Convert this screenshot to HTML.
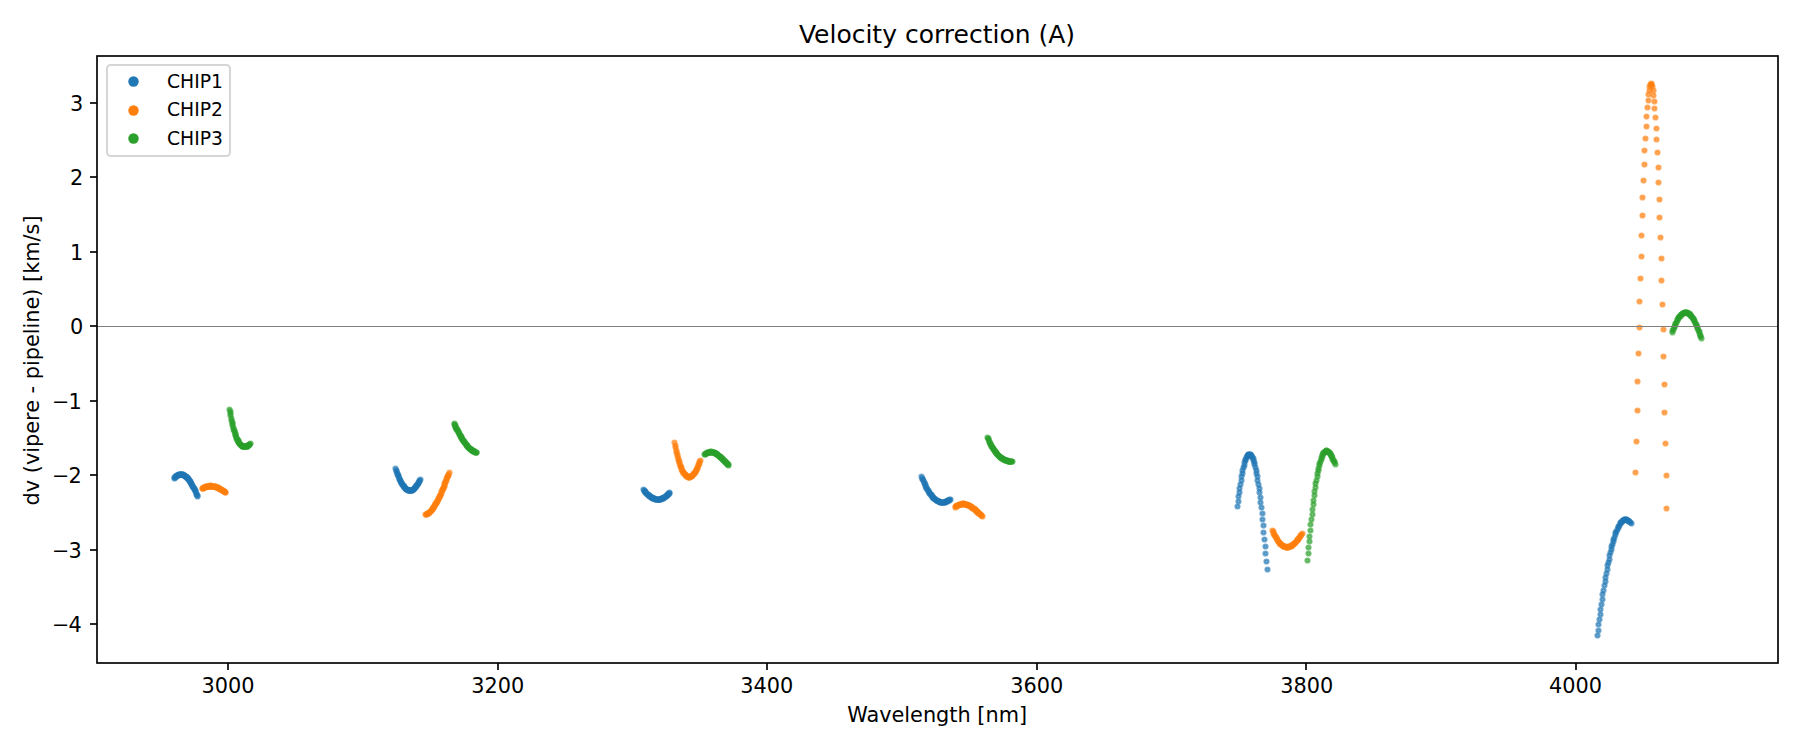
<!DOCTYPE html>
<html lang="en"><head><meta charset="utf-8"><title>Velocity correction (A)</title>
<style>html,body{margin:0;padding:0;background:#fff;overflow:hidden}svg{display:block}text{font-family:"DejaVu Sans", "Liberation Sans", sans-serif;fill:#000}.d circle{fill-opacity:0.6;stroke-opacity:0.6;stroke-width:2.083}.b circle{fill:#1f77b4;stroke:#1f77b4}.o circle{fill:#ff7f0e;stroke:#ff7f0e}.g circle{fill:#2ca02c;stroke:#2ca02c}</style></head><body>
<svg width="1800" height="750" viewBox="0 0 1800 750">
<rect x="0" y="0" width="1800" height="750" fill="#fff"/>
<g class="d">
<g class="b"><circle cx="174.5" cy="478.5" r="2.083"/><circle cx="174.5" cy="477.5" r="2.083"/><circle cx="175.5" cy="477.5" r="2.083"/><circle cx="175.5" cy="476.5" r="2.083"/><circle cx="176.5" cy="476.5" r="2.083"/><circle cx="176.5" cy="475.5" r="2.083"/><circle cx="177.5" cy="475.5" r="2.083"/><circle cx="177.5" cy="475.5" r="2.083"/><circle cx="178.5" cy="475.5" r="2.083"/><circle cx="178.5" cy="474.5" r="2.083"/><circle cx="179.5" cy="474.5" r="2.083"/><circle cx="179.5" cy="474.5" r="2.083"/><circle cx="180.5" cy="474.5" r="2.083"/><circle cx="180.5" cy="474.5" r="2.083"/><circle cx="181.5" cy="474.5" r="2.083"/><circle cx="181.5" cy="474.5" r="2.083"/><circle cx="181.5" cy="474.5" r="2.083"/><circle cx="182.5" cy="474.5" r="2.083"/><circle cx="182.5" cy="474.5" r="2.083"/><circle cx="183.5" cy="474.5" r="2.083"/><circle cx="183.5" cy="475.5" r="2.083"/><circle cx="184.5" cy="475.5" r="2.083"/><circle cx="184.5" cy="475.5" r="2.083"/><circle cx="185.5" cy="476.5" r="2.083"/><circle cx="185.5" cy="476.5" r="2.083"/><circle cx="186.5" cy="476.5" r="2.083"/><circle cx="186.5" cy="477.5" r="2.083"/><circle cx="187.5" cy="477.5" r="2.083"/><circle cx="187.5" cy="478.5" r="2.083"/><circle cx="188.5" cy="478.5" r="2.083"/><circle cx="188.5" cy="479.5" r="2.083"/><circle cx="189.5" cy="480.5" r="2.083"/><circle cx="189.5" cy="480.5" r="2.083"/><circle cx="190.5" cy="481.5" r="2.083"/><circle cx="190.5" cy="482.5" r="2.083"/><circle cx="190.5" cy="482.5" r="2.083"/><circle cx="191.5" cy="483.5" r="2.083"/><circle cx="191.5" cy="484.5" r="2.083"/><circle cx="192.5" cy="485.5" r="2.083"/><circle cx="192.5" cy="486.5" r="2.083"/><circle cx="193.5" cy="487.5" r="2.083"/><circle cx="193.5" cy="487.5" r="2.083"/><circle cx="194.5" cy="488.5" r="2.083"/><circle cx="194.5" cy="489.5" r="2.083"/><circle cx="195.5" cy="490.5" r="2.083"/><circle cx="195.5" cy="491.5" r="2.083"/><circle cx="196.5" cy="493.5" r="2.083"/><circle cx="196.5" cy="494.5" r="2.083"/><circle cx="197.5" cy="495.5" r="2.083"/><circle cx="197.5" cy="496.5" r="2.083"/></g>
<g class="o"><circle cx="202.5" cy="488.5" r="2.083"/><circle cx="202.5" cy="488.5" r="2.083"/><circle cx="203.5" cy="488.5" r="2.083"/><circle cx="203.5" cy="487.5" r="2.083"/><circle cx="204.5" cy="487.5" r="2.083"/><circle cx="204.5" cy="487.5" r="2.083"/><circle cx="205.5" cy="487.5" r="2.083"/><circle cx="205.5" cy="486.5" r="2.083"/><circle cx="206.5" cy="486.5" r="2.083"/><circle cx="206.5" cy="486.5" r="2.083"/><circle cx="207.5" cy="486.5" r="2.083"/><circle cx="207.5" cy="486.5" r="2.083"/><circle cx="208.5" cy="486.5" r="2.083"/><circle cx="208.5" cy="486.5" r="2.083"/><circle cx="209.5" cy="486.5" r="2.083"/><circle cx="209.5" cy="486.5" r="2.083"/><circle cx="209.5" cy="486.5" r="2.083"/><circle cx="210.5" cy="485.5" r="2.083"/><circle cx="210.5" cy="485.5" r="2.083"/><circle cx="211.5" cy="486.5" r="2.083"/><circle cx="211.5" cy="486.5" r="2.083"/><circle cx="212.5" cy="486.5" r="2.083"/><circle cx="212.5" cy="486.5" r="2.083"/><circle cx="213.5" cy="486.5" r="2.083"/><circle cx="213.5" cy="486.5" r="2.083"/><circle cx="214.5" cy="486.5" r="2.083"/><circle cx="214.5" cy="486.5" r="2.083"/><circle cx="215.5" cy="486.5" r="2.083"/><circle cx="215.5" cy="486.5" r="2.083"/><circle cx="216.5" cy="487.5" r="2.083"/><circle cx="216.5" cy="487.5" r="2.083"/><circle cx="217.5" cy="487.5" r="2.083"/><circle cx="217.5" cy="487.5" r="2.083"/><circle cx="218.5" cy="487.5" r="2.083"/><circle cx="218.5" cy="488.5" r="2.083"/><circle cx="218.5" cy="488.5" r="2.083"/><circle cx="219.5" cy="488.5" r="2.083"/><circle cx="219.5" cy="488.5" r="2.083"/><circle cx="220.5" cy="489.5" r="2.083"/><circle cx="220.5" cy="489.5" r="2.083"/><circle cx="221.5" cy="489.5" r="2.083"/><circle cx="221.5" cy="489.5" r="2.083"/><circle cx="222.5" cy="490.5" r="2.083"/><circle cx="222.5" cy="490.5" r="2.083"/><circle cx="223.5" cy="490.5" r="2.083"/><circle cx="223.5" cy="491.5" r="2.083"/><circle cx="224.5" cy="491.5" r="2.083"/><circle cx="224.5" cy="491.5" r="2.083"/><circle cx="225.5" cy="492.5" r="2.083"/><circle cx="225.5" cy="492.5" r="2.083"/></g>
<g class="g"><circle cx="229.5" cy="409.5" r="2.083"/><circle cx="230.5" cy="411.5" r="2.083"/><circle cx="230.5" cy="413.5" r="2.083"/><circle cx="230.5" cy="415.5" r="2.083"/><circle cx="231.5" cy="418.5" r="2.083"/><circle cx="231.5" cy="420.5" r="2.083"/><circle cx="232.5" cy="422.5" r="2.083"/><circle cx="232.5" cy="423.5" r="2.083"/><circle cx="232.5" cy="425.5" r="2.083"/><circle cx="233.5" cy="427.5" r="2.083"/><circle cx="233.5" cy="429.5" r="2.083"/><circle cx="234.5" cy="430.5" r="2.083"/><circle cx="234.5" cy="431.5" r="2.083"/><circle cx="235.5" cy="433.5" r="2.083"/><circle cx="235.5" cy="434.5" r="2.083"/><circle cx="235.5" cy="435.5" r="2.083"/><circle cx="236.5" cy="437.5" r="2.083"/><circle cx="236.5" cy="438.5" r="2.083"/><circle cx="237.5" cy="439.5" r="2.083"/><circle cx="237.5" cy="440.5" r="2.083"/><circle cx="238.5" cy="440.5" r="2.083"/><circle cx="238.5" cy="441.5" r="2.083"/><circle cx="238.5" cy="442.5" r="2.083"/><circle cx="239.5" cy="443.5" r="2.083"/><circle cx="239.5" cy="443.5" r="2.083"/><circle cx="240.5" cy="444.5" r="2.083"/><circle cx="240.5" cy="444.5" r="2.083"/><circle cx="241.5" cy="445.5" r="2.083"/><circle cx="241.5" cy="445.5" r="2.083"/><circle cx="241.5" cy="445.5" r="2.083"/><circle cx="242.5" cy="446.5" r="2.083"/><circle cx="242.5" cy="446.5" r="2.083"/><circle cx="243.5" cy="446.5" r="2.083"/><circle cx="243.5" cy="446.5" r="2.083"/><circle cx="244.5" cy="446.5" r="2.083"/><circle cx="244.5" cy="446.5" r="2.083"/><circle cx="244.5" cy="446.5" r="2.083"/><circle cx="245.5" cy="446.5" r="2.083"/><circle cx="245.5" cy="446.5" r="2.083"/><circle cx="246.5" cy="446.5" r="2.083"/><circle cx="246.5" cy="446.5" r="2.083"/><circle cx="247.5" cy="446.5" r="2.083"/><circle cx="247.5" cy="446.5" r="2.083"/><circle cx="247.5" cy="445.5" r="2.083"/><circle cx="248.5" cy="445.5" r="2.083"/><circle cx="248.5" cy="445.5" r="2.083"/><circle cx="249.5" cy="444.5" r="2.083"/><circle cx="249.5" cy="444.5" r="2.083"/><circle cx="249.5" cy="444.5" r="2.083"/><circle cx="250.5" cy="443.5" r="2.083"/></g>
<g class="b"><circle cx="395.5" cy="468.5" r="2.083"/><circle cx="396.5" cy="470.5" r="2.083"/><circle cx="396.5" cy="471.5" r="2.083"/><circle cx="397.5" cy="473.5" r="2.083"/><circle cx="397.5" cy="474.5" r="2.083"/><circle cx="398.5" cy="475.5" r="2.083"/><circle cx="398.5" cy="476.5" r="2.083"/><circle cx="399.5" cy="478.5" r="2.083"/><circle cx="399.5" cy="479.5" r="2.083"/><circle cx="400.5" cy="480.5" r="2.083"/><circle cx="400.5" cy="481.5" r="2.083"/><circle cx="401.5" cy="482.5" r="2.083"/><circle cx="401.5" cy="483.5" r="2.083"/><circle cx="402.5" cy="484.5" r="2.083"/><circle cx="402.5" cy="484.5" r="2.083"/><circle cx="403.5" cy="485.5" r="2.083"/><circle cx="403.5" cy="486.5" r="2.083"/><circle cx="404.5" cy="486.5" r="2.083"/><circle cx="404.5" cy="487.5" r="2.083"/><circle cx="405.5" cy="488.5" r="2.083"/><circle cx="405.5" cy="488.5" r="2.083"/><circle cx="406.5" cy="489.5" r="2.083"/><circle cx="406.5" cy="489.5" r="2.083"/><circle cx="407.5" cy="489.5" r="2.083"/><circle cx="407.5" cy="489.5" r="2.083"/><circle cx="408.5" cy="490.5" r="2.083"/><circle cx="408.5" cy="490.5" r="2.083"/><circle cx="409.5" cy="490.5" r="2.083"/><circle cx="409.5" cy="490.5" r="2.083"/><circle cx="410.5" cy="490.5" r="2.083"/><circle cx="410.5" cy="490.5" r="2.083"/><circle cx="411.5" cy="490.5" r="2.083"/><circle cx="411.5" cy="490.5" r="2.083"/><circle cx="412.5" cy="490.5" r="2.083"/><circle cx="412.5" cy="489.5" r="2.083"/><circle cx="413.5" cy="489.5" r="2.083"/><circle cx="413.5" cy="489.5" r="2.083"/><circle cx="414.5" cy="488.5" r="2.083"/><circle cx="414.5" cy="488.5" r="2.083"/><circle cx="415.5" cy="487.5" r="2.083"/><circle cx="415.5" cy="486.5" r="2.083"/><circle cx="416.5" cy="486.5" r="2.083"/><circle cx="416.5" cy="485.5" r="2.083"/><circle cx="417.5" cy="484.5" r="2.083"/><circle cx="417.5" cy="484.5" r="2.083"/><circle cx="418.5" cy="483.5" r="2.083"/><circle cx="418.5" cy="482.5" r="2.083"/><circle cx="419.5" cy="481.5" r="2.083"/><circle cx="419.5" cy="480.5" r="2.083"/><circle cx="420.5" cy="479.5" r="2.083"/></g>
<g class="o"><circle cx="425.5" cy="514.5" r="2.083"/><circle cx="426.5" cy="514.5" r="2.083"/><circle cx="426.5" cy="514.5" r="2.083"/><circle cx="427.5" cy="513.5" r="2.083"/><circle cx="427.5" cy="513.5" r="2.083"/><circle cx="428.5" cy="513.5" r="2.083"/><circle cx="428.5" cy="513.5" r="2.083"/><circle cx="429.5" cy="512.5" r="2.083"/><circle cx="429.5" cy="512.5" r="2.083"/><circle cx="430.5" cy="511.5" r="2.083"/><circle cx="430.5" cy="511.5" r="2.083"/><circle cx="431.5" cy="510.5" r="2.083"/><circle cx="431.5" cy="510.5" r="2.083"/><circle cx="432.5" cy="509.5" r="2.083"/><circle cx="432.5" cy="509.5" r="2.083"/><circle cx="432.5" cy="508.5" r="2.083"/><circle cx="433.5" cy="507.5" r="2.083"/><circle cx="433.5" cy="507.5" r="2.083"/><circle cx="434.5" cy="506.5" r="2.083"/><circle cx="434.5" cy="505.5" r="2.083"/><circle cx="435.5" cy="504.5" r="2.083"/><circle cx="435.5" cy="503.5" r="2.083"/><circle cx="436.5" cy="503.5" r="2.083"/><circle cx="436.5" cy="502.5" r="2.083"/><circle cx="437.5" cy="501.5" r="2.083"/><circle cx="437.5" cy="500.5" r="2.083"/><circle cx="438.5" cy="499.5" r="2.083"/><circle cx="438.5" cy="498.5" r="2.083"/><circle cx="439.5" cy="497.5" r="2.083"/><circle cx="439.5" cy="496.5" r="2.083"/><circle cx="440.5" cy="495.5" r="2.083"/><circle cx="440.5" cy="494.5" r="2.083"/><circle cx="441.5" cy="493.5" r="2.083"/><circle cx="441.5" cy="491.5" r="2.083"/><circle cx="442.5" cy="490.5" r="2.083"/><circle cx="442.5" cy="489.5" r="2.083"/><circle cx="443.5" cy="488.5" r="2.083"/><circle cx="443.5" cy="487.5" r="2.083"/><circle cx="444.5" cy="486.5" r="2.083"/><circle cx="444.5" cy="485.5" r="2.083"/><circle cx="444.5" cy="483.5" r="2.083"/><circle cx="445.5" cy="482.5" r="2.083"/><circle cx="445.5" cy="481.5" r="2.083"/><circle cx="446.5" cy="480.5" r="2.083"/><circle cx="446.5" cy="478.5" r="2.083"/><circle cx="447.5" cy="477.5" r="2.083"/><circle cx="447.5" cy="476.5" r="2.083"/><circle cx="448.5" cy="475.5" r="2.083"/><circle cx="448.5" cy="474.5" r="2.083"/><circle cx="449.5" cy="472.5" r="2.083"/></g>
<g class="g"><circle cx="454.5" cy="423.5" r="2.083"/><circle cx="454.5" cy="424.5" r="2.083"/><circle cx="455.5" cy="425.5" r="2.083"/><circle cx="455.5" cy="426.5" r="2.083"/><circle cx="455.5" cy="427.5" r="2.083"/><circle cx="456.5" cy="428.5" r="2.083"/><circle cx="456.5" cy="429.5" r="2.083"/><circle cx="457.5" cy="429.5" r="2.083"/><circle cx="457.5" cy="430.5" r="2.083"/><circle cx="458.5" cy="431.5" r="2.083"/><circle cx="458.5" cy="432.5" r="2.083"/><circle cx="459.5" cy="433.5" r="2.083"/><circle cx="459.5" cy="434.5" r="2.083"/><circle cx="460.5" cy="435.5" r="2.083"/><circle cx="460.5" cy="436.5" r="2.083"/><circle cx="461.5" cy="436.5" r="2.083"/><circle cx="461.5" cy="437.5" r="2.083"/><circle cx="461.5" cy="438.5" r="2.083"/><circle cx="462.5" cy="439.5" r="2.083"/><circle cx="462.5" cy="439.5" r="2.083"/><circle cx="463.5" cy="440.5" r="2.083"/><circle cx="463.5" cy="441.5" r="2.083"/><circle cx="464.5" cy="441.5" r="2.083"/><circle cx="464.5" cy="442.5" r="2.083"/><circle cx="465.5" cy="443.5" r="2.083"/><circle cx="465.5" cy="443.5" r="2.083"/><circle cx="466.5" cy="444.5" r="2.083"/><circle cx="466.5" cy="445.5" r="2.083"/><circle cx="467.5" cy="445.5" r="2.083"/><circle cx="467.5" cy="446.5" r="2.083"/><circle cx="467.5" cy="446.5" r="2.083"/><circle cx="468.5" cy="447.5" r="2.083"/><circle cx="468.5" cy="447.5" r="2.083"/><circle cx="469.5" cy="448.5" r="2.083"/><circle cx="469.5" cy="448.5" r="2.083"/><circle cx="470.5" cy="448.5" r="2.083"/><circle cx="470.5" cy="449.5" r="2.083"/><circle cx="471.5" cy="449.5" r="2.083"/><circle cx="471.5" cy="450.5" r="2.083"/><circle cx="472.5" cy="450.5" r="2.083"/><circle cx="472.5" cy="450.5" r="2.083"/><circle cx="473.5" cy="450.5" r="2.083"/><circle cx="473.5" cy="451.5" r="2.083"/><circle cx="473.5" cy="451.5" r="2.083"/><circle cx="474.5" cy="451.5" r="2.083"/><circle cx="474.5" cy="451.5" r="2.083"/><circle cx="475.5" cy="452.5" r="2.083"/><circle cx="475.5" cy="452.5" r="2.083"/><circle cx="476.5" cy="452.5" r="2.083"/><circle cx="476.5" cy="452.5" r="2.083"/></g>
<g class="b"><circle cx="643.5" cy="489.5" r="2.083"/><circle cx="644.5" cy="490.5" r="2.083"/><circle cx="644.5" cy="491.5" r="2.083"/><circle cx="645.5" cy="491.5" r="2.083"/><circle cx="645.5" cy="492.5" r="2.083"/><circle cx="646.5" cy="493.5" r="2.083"/><circle cx="646.5" cy="493.5" r="2.083"/><circle cx="647.5" cy="494.5" r="2.083"/><circle cx="648.5" cy="494.5" r="2.083"/><circle cx="648.5" cy="495.5" r="2.083"/><circle cx="649.5" cy="495.5" r="2.083"/><circle cx="649.5" cy="496.5" r="2.083"/><circle cx="650.5" cy="496.5" r="2.083"/><circle cx="650.5" cy="496.5" r="2.083"/><circle cx="651.5" cy="497.5" r="2.083"/><circle cx="651.5" cy="497.5" r="2.083"/><circle cx="652.5" cy="497.5" r="2.083"/><circle cx="652.5" cy="498.5" r="2.083"/><circle cx="653.5" cy="498.5" r="2.083"/><circle cx="653.5" cy="498.5" r="2.083"/><circle cx="654.5" cy="498.5" r="2.083"/><circle cx="654.5" cy="498.5" r="2.083"/><circle cx="655.5" cy="499.5" r="2.083"/><circle cx="655.5" cy="499.5" r="2.083"/><circle cx="656.5" cy="499.5" r="2.083"/><circle cx="657.5" cy="499.5" r="2.083"/><circle cx="657.5" cy="499.5" r="2.083"/><circle cx="658.5" cy="499.5" r="2.083"/><circle cx="658.5" cy="499.5" r="2.083"/><circle cx="659.5" cy="499.5" r="2.083"/><circle cx="659.5" cy="499.5" r="2.083"/><circle cx="660.5" cy="499.5" r="2.083"/><circle cx="660.5" cy="499.5" r="2.083"/><circle cx="661.5" cy="498.5" r="2.083"/><circle cx="661.5" cy="498.5" r="2.083"/><circle cx="662.5" cy="498.5" r="2.083"/><circle cx="662.5" cy="498.5" r="2.083"/><circle cx="663.5" cy="498.5" r="2.083"/><circle cx="663.5" cy="497.5" r="2.083"/><circle cx="664.5" cy="497.5" r="2.083"/><circle cx="664.5" cy="497.5" r="2.083"/><circle cx="665.5" cy="496.5" r="2.083"/><circle cx="666.5" cy="496.5" r="2.083"/><circle cx="666.5" cy="495.5" r="2.083"/><circle cx="667.5" cy="495.5" r="2.083"/><circle cx="667.5" cy="494.5" r="2.083"/><circle cx="668.5" cy="494.5" r="2.083"/><circle cx="668.5" cy="493.5" r="2.083"/><circle cx="669.5" cy="493.5" r="2.083"/><circle cx="669.5" cy="492.5" r="2.083"/></g>
<g class="o"><circle cx="674.5" cy="442.5" r="2.083"/><circle cx="675.5" cy="445.5" r="2.083"/><circle cx="675.5" cy="447.5" r="2.083"/><circle cx="676.5" cy="450.5" r="2.083"/><circle cx="676.5" cy="452.5" r="2.083"/><circle cx="677.5" cy="454.5" r="2.083"/><circle cx="677.5" cy="456.5" r="2.083"/><circle cx="678.5" cy="458.5" r="2.083"/><circle cx="678.5" cy="460.5" r="2.083"/><circle cx="679.5" cy="461.5" r="2.083"/><circle cx="679.5" cy="463.5" r="2.083"/><circle cx="680.5" cy="465.5" r="2.083"/><circle cx="680.5" cy="466.5" r="2.083"/><circle cx="681.5" cy="467.5" r="2.083"/><circle cx="681.5" cy="469.5" r="2.083"/><circle cx="682.5" cy="470.5" r="2.083"/><circle cx="682.5" cy="471.5" r="2.083"/><circle cx="683.5" cy="472.5" r="2.083"/><circle cx="683.5" cy="473.5" r="2.083"/><circle cx="684.5" cy="473.5" r="2.083"/><circle cx="685.5" cy="474.5" r="2.083"/><circle cx="685.5" cy="475.5" r="2.083"/><circle cx="686.5" cy="475.5" r="2.083"/><circle cx="686.5" cy="476.5" r="2.083"/><circle cx="687.5" cy="476.5" r="2.083"/><circle cx="687.5" cy="476.5" r="2.083"/><circle cx="688.5" cy="476.5" r="2.083"/><circle cx="688.5" cy="477.5" r="2.083"/><circle cx="689.5" cy="477.5" r="2.083"/><circle cx="689.5" cy="477.5" r="2.083"/><circle cx="690.5" cy="476.5" r="2.083"/><circle cx="690.5" cy="476.5" r="2.083"/><circle cx="691.5" cy="476.5" r="2.083"/><circle cx="691.5" cy="476.5" r="2.083"/><circle cx="692.5" cy="475.5" r="2.083"/><circle cx="692.5" cy="475.5" r="2.083"/><circle cx="693.5" cy="474.5" r="2.083"/><circle cx="693.5" cy="473.5" r="2.083"/><circle cx="694.5" cy="473.5" r="2.083"/><circle cx="695.5" cy="472.5" r="2.083"/><circle cx="695.5" cy="471.5" r="2.083"/><circle cx="696.5" cy="470.5" r="2.083"/><circle cx="696.5" cy="469.5" r="2.083"/><circle cx="697.5" cy="468.5" r="2.083"/><circle cx="697.5" cy="467.5" r="2.083"/><circle cx="698.5" cy="465.5" r="2.083"/><circle cx="698.5" cy="464.5" r="2.083"/><circle cx="699.5" cy="463.5" r="2.083"/><circle cx="699.5" cy="461.5" r="2.083"/><circle cx="700.5" cy="460.5" r="2.083"/></g>
<g class="g"><circle cx="704.5" cy="454.5" r="2.083"/><circle cx="705.5" cy="454.5" r="2.083"/><circle cx="705.5" cy="453.5" r="2.083"/><circle cx="706.5" cy="453.5" r="2.083"/><circle cx="706.5" cy="453.5" r="2.083"/><circle cx="707.5" cy="452.5" r="2.083"/><circle cx="707.5" cy="452.5" r="2.083"/><circle cx="708.5" cy="452.5" r="2.083"/><circle cx="708.5" cy="452.5" r="2.083"/><circle cx="709.5" cy="452.5" r="2.083"/><circle cx="709.5" cy="452.5" r="2.083"/><circle cx="710.5" cy="452.5" r="2.083"/><circle cx="710.5" cy="451.5" r="2.083"/><circle cx="711.5" cy="451.5" r="2.083"/><circle cx="711.5" cy="452.5" r="2.083"/><circle cx="712.5" cy="452.5" r="2.083"/><circle cx="712.5" cy="452.5" r="2.083"/><circle cx="713.5" cy="452.5" r="2.083"/><circle cx="713.5" cy="452.5" r="2.083"/><circle cx="714.5" cy="452.5" r="2.083"/><circle cx="714.5" cy="452.5" r="2.083"/><circle cx="715.5" cy="453.5" r="2.083"/><circle cx="715.5" cy="453.5" r="2.083"/><circle cx="716.5" cy="453.5" r="2.083"/><circle cx="716.5" cy="453.5" r="2.083"/><circle cx="716.5" cy="454.5" r="2.083"/><circle cx="717.5" cy="454.5" r="2.083"/><circle cx="717.5" cy="454.5" r="2.083"/><circle cx="718.5" cy="455.5" r="2.083"/><circle cx="718.5" cy="455.5" r="2.083"/><circle cx="719.5" cy="456.5" r="2.083"/><circle cx="719.5" cy="456.5" r="2.083"/><circle cx="720.5" cy="456.5" r="2.083"/><circle cx="720.5" cy="457.5" r="2.083"/><circle cx="721.5" cy="457.5" r="2.083"/><circle cx="721.5" cy="458.5" r="2.083"/><circle cx="722.5" cy="458.5" r="2.083"/><circle cx="722.5" cy="459.5" r="2.083"/><circle cx="723.5" cy="459.5" r="2.083"/><circle cx="723.5" cy="460.5" r="2.083"/><circle cx="724.5" cy="460.5" r="2.083"/><circle cx="724.5" cy="461.5" r="2.083"/><circle cx="725.5" cy="461.5" r="2.083"/><circle cx="725.5" cy="462.5" r="2.083"/><circle cx="726.5" cy="462.5" r="2.083"/><circle cx="726.5" cy="463.5" r="2.083"/><circle cx="727.5" cy="463.5" r="2.083"/><circle cx="727.5" cy="464.5" r="2.083"/><circle cx="728.5" cy="464.5" r="2.083"/><circle cx="728.5" cy="465.5" r="2.083"/></g>
<g class="b"><circle cx="921.5" cy="476.5" r="2.083"/><circle cx="922.5" cy="478.5" r="2.083"/><circle cx="922.5" cy="479.5" r="2.083"/><circle cx="923.5" cy="480.5" r="2.083"/><circle cx="924.5" cy="482.5" r="2.083"/><circle cx="924.5" cy="483.5" r="2.083"/><circle cx="925.5" cy="484.5" r="2.083"/><circle cx="925.5" cy="486.5" r="2.083"/><circle cx="926.5" cy="487.5" r="2.083"/><circle cx="926.5" cy="488.5" r="2.083"/><circle cx="927.5" cy="489.5" r="2.083"/><circle cx="928.5" cy="490.5" r="2.083"/><circle cx="928.5" cy="491.5" r="2.083"/><circle cx="929.5" cy="492.5" r="2.083"/><circle cx="929.5" cy="493.5" r="2.083"/><circle cx="930.5" cy="494.5" r="2.083"/><circle cx="931.5" cy="494.5" r="2.083"/><circle cx="931.5" cy="495.5" r="2.083"/><circle cx="932.5" cy="496.5" r="2.083"/><circle cx="932.5" cy="497.5" r="2.083"/><circle cx="933.5" cy="497.5" r="2.083"/><circle cx="933.5" cy="498.5" r="2.083"/><circle cx="934.5" cy="498.5" r="2.083"/><circle cx="935.5" cy="499.5" r="2.083"/><circle cx="935.5" cy="499.5" r="2.083"/><circle cx="936.5" cy="500.5" r="2.083"/><circle cx="936.5" cy="500.5" r="2.083"/><circle cx="937.5" cy="500.5" r="2.083"/><circle cx="938.5" cy="501.5" r="2.083"/><circle cx="938.5" cy="501.5" r="2.083"/><circle cx="939.5" cy="501.5" r="2.083"/><circle cx="939.5" cy="501.5" r="2.083"/><circle cx="940.5" cy="502.5" r="2.083"/><circle cx="940.5" cy="502.5" r="2.083"/><circle cx="941.5" cy="502.5" r="2.083"/><circle cx="942.5" cy="502.5" r="2.083"/><circle cx="942.5" cy="502.5" r="2.083"/><circle cx="943.5" cy="502.5" r="2.083"/><circle cx="943.5" cy="502.5" r="2.083"/><circle cx="944.5" cy="502.5" r="2.083"/><circle cx="945.5" cy="502.5" r="2.083"/><circle cx="945.5" cy="501.5" r="2.083"/><circle cx="946.5" cy="501.5" r="2.083"/><circle cx="946.5" cy="501.5" r="2.083"/><circle cx="947.5" cy="501.5" r="2.083"/><circle cx="947.5" cy="500.5" r="2.083"/><circle cx="948.5" cy="500.5" r="2.083"/><circle cx="949.5" cy="500.5" r="2.083"/><circle cx="949.5" cy="499.5" r="2.083"/><circle cx="950.5" cy="499.5" r="2.083"/></g>
<g class="o"><circle cx="955.5" cy="507.5" r="2.083"/><circle cx="955.5" cy="506.5" r="2.083"/><circle cx="956.5" cy="506.5" r="2.083"/><circle cx="956.5" cy="505.5" r="2.083"/><circle cx="957.5" cy="505.5" r="2.083"/><circle cx="958.5" cy="505.5" r="2.083"/><circle cx="958.5" cy="505.5" r="2.083"/><circle cx="959.5" cy="504.5" r="2.083"/><circle cx="959.5" cy="504.5" r="2.083"/><circle cx="960.5" cy="504.5" r="2.083"/><circle cx="960.5" cy="504.5" r="2.083"/><circle cx="961.5" cy="504.5" r="2.083"/><circle cx="961.5" cy="504.5" r="2.083"/><circle cx="962.5" cy="503.5" r="2.083"/><circle cx="963.5" cy="503.5" r="2.083"/><circle cx="963.5" cy="503.5" r="2.083"/><circle cx="964.5" cy="504.5" r="2.083"/><circle cx="964.5" cy="504.5" r="2.083"/><circle cx="965.5" cy="504.5" r="2.083"/><circle cx="965.5" cy="504.5" r="2.083"/><circle cx="966.5" cy="504.5" r="2.083"/><circle cx="966.5" cy="504.5" r="2.083"/><circle cx="967.5" cy="504.5" r="2.083"/><circle cx="967.5" cy="505.5" r="2.083"/><circle cx="968.5" cy="505.5" r="2.083"/><circle cx="969.5" cy="505.5" r="2.083"/><circle cx="969.5" cy="505.5" r="2.083"/><circle cx="970.5" cy="506.5" r="2.083"/><circle cx="970.5" cy="506.5" r="2.083"/><circle cx="971.5" cy="506.5" r="2.083"/><circle cx="971.5" cy="507.5" r="2.083"/><circle cx="972.5" cy="507.5" r="2.083"/><circle cx="972.5" cy="508.5" r="2.083"/><circle cx="973.5" cy="508.5" r="2.083"/><circle cx="974.5" cy="508.5" r="2.083"/><circle cx="974.5" cy="509.5" r="2.083"/><circle cx="975.5" cy="509.5" r="2.083"/><circle cx="975.5" cy="510.5" r="2.083"/><circle cx="976.5" cy="510.5" r="2.083"/><circle cx="976.5" cy="511.5" r="2.083"/><circle cx="977.5" cy="511.5" r="2.083"/><circle cx="977.5" cy="512.5" r="2.083"/><circle cx="978.5" cy="512.5" r="2.083"/><circle cx="978.5" cy="513.5" r="2.083"/><circle cx="979.5" cy="513.5" r="2.083"/><circle cx="980.5" cy="514.5" r="2.083"/><circle cx="980.5" cy="514.5" r="2.083"/><circle cx="981.5" cy="515.5" r="2.083"/><circle cx="981.5" cy="515.5" r="2.083"/><circle cx="982.5" cy="516.5" r="2.083"/></g>
<g class="g"><circle cx="987.5" cy="437.5" r="2.083"/><circle cx="988.5" cy="438.5" r="2.083"/><circle cx="988.5" cy="439.5" r="2.083"/><circle cx="989.5" cy="441.5" r="2.083"/><circle cx="989.5" cy="442.5" r="2.083"/><circle cx="990.5" cy="443.5" r="2.083"/><circle cx="990.5" cy="444.5" r="2.083"/><circle cx="991.5" cy="445.5" r="2.083"/><circle cx="991.5" cy="446.5" r="2.083"/><circle cx="992.5" cy="447.5" r="2.083"/><circle cx="992.5" cy="447.5" r="2.083"/><circle cx="993.5" cy="448.5" r="2.083"/><circle cx="993.5" cy="449.5" r="2.083"/><circle cx="994.5" cy="450.5" r="2.083"/><circle cx="994.5" cy="450.5" r="2.083"/><circle cx="995.5" cy="451.5" r="2.083"/><circle cx="995.5" cy="452.5" r="2.083"/><circle cx="996.5" cy="452.5" r="2.083"/><circle cx="996.5" cy="453.5" r="2.083"/><circle cx="997.5" cy="454.5" r="2.083"/><circle cx="997.5" cy="454.5" r="2.083"/><circle cx="998.5" cy="455.5" r="2.083"/><circle cx="998.5" cy="455.5" r="2.083"/><circle cx="999.5" cy="456.5" r="2.083"/><circle cx="999.5" cy="456.5" r="2.083"/><circle cx="1000.5" cy="457.5" r="2.083"/><circle cx="1000.5" cy="457.5" r="2.083"/><circle cx="1001.5" cy="457.5" r="2.083"/><circle cx="1001.5" cy="458.5" r="2.083"/><circle cx="1002.5" cy="458.5" r="2.083"/><circle cx="1002.5" cy="458.5" r="2.083"/><circle cx="1003.5" cy="459.5" r="2.083"/><circle cx="1003.5" cy="459.5" r="2.083"/><circle cx="1004.5" cy="459.5" r="2.083"/><circle cx="1004.5" cy="459.5" r="2.083"/><circle cx="1005.5" cy="460.5" r="2.083"/><circle cx="1005.5" cy="460.5" r="2.083"/><circle cx="1006.5" cy="460.5" r="2.083"/><circle cx="1006.5" cy="460.5" r="2.083"/><circle cx="1007.5" cy="460.5" r="2.083"/><circle cx="1007.5" cy="460.5" r="2.083"/><circle cx="1008.5" cy="461.5" r="2.083"/><circle cx="1008.5" cy="461.5" r="2.083"/><circle cx="1009.5" cy="461.5" r="2.083"/><circle cx="1009.5" cy="461.5" r="2.083"/><circle cx="1010.5" cy="461.5" r="2.083"/><circle cx="1010.5" cy="461.5" r="2.083"/><circle cx="1011.5" cy="461.5" r="2.083"/><circle cx="1011.5" cy="461.5" r="2.083"/><circle cx="1012.5" cy="461.5" r="2.083"/></g>
<g class="b"><circle cx="1237.5" cy="506.5" r="2.083"/><circle cx="1238.5" cy="501.5" r="2.083"/><circle cx="1238.5" cy="496.5" r="2.083"/><circle cx="1239.5" cy="492.5" r="2.083"/><circle cx="1239.5" cy="488.5" r="2.083"/><circle cx="1240.5" cy="484.5" r="2.083"/><circle cx="1241.5" cy="480.5" r="2.083"/><circle cx="1241.5" cy="476.5" r="2.083"/><circle cx="1242.5" cy="473.5" r="2.083"/><circle cx="1242.5" cy="470.5" r="2.083"/><circle cx="1243.5" cy="467.5" r="2.083"/><circle cx="1244.5" cy="465.5" r="2.083"/><circle cx="1244.5" cy="462.5" r="2.083"/><circle cx="1245.5" cy="460.5" r="2.083"/><circle cx="1245.5" cy="459.5" r="2.083"/><circle cx="1246.5" cy="457.5" r="2.083"/><circle cx="1247.5" cy="456.5" r="2.083"/><circle cx="1247.5" cy="455.5" r="2.083"/><circle cx="1248.5" cy="454.5" r="2.083"/><circle cx="1248.5" cy="454.5" r="2.083"/><circle cx="1249.5" cy="454.5" r="2.083"/><circle cx="1250.5" cy="454.5" r="2.083"/><circle cx="1250.5" cy="454.5" r="2.083"/><circle cx="1251.5" cy="455.5" r="2.083"/><circle cx="1251.5" cy="456.5" r="2.083"/><circle cx="1252.5" cy="457.5" r="2.083"/><circle cx="1253.5" cy="458.5" r="2.083"/><circle cx="1253.5" cy="460.5" r="2.083"/><circle cx="1254.5" cy="462.5" r="2.083"/><circle cx="1254.5" cy="464.5" r="2.083"/><circle cx="1255.5" cy="467.5" r="2.083"/><circle cx="1256.5" cy="470.5" r="2.083"/><circle cx="1256.5" cy="473.5" r="2.083"/><circle cx="1257.5" cy="476.5" r="2.083"/><circle cx="1257.5" cy="480.5" r="2.083"/><circle cx="1258.5" cy="484.5" r="2.083"/><circle cx="1259.5" cy="488.5" r="2.083"/><circle cx="1259.5" cy="492.5" r="2.083"/><circle cx="1260.5" cy="497.5" r="2.083"/><circle cx="1260.5" cy="502.5" r="2.083"/><circle cx="1261.5" cy="507.5" r="2.083"/><circle cx="1262.5" cy="513.5" r="2.083"/><circle cx="1262.5" cy="519.5" r="2.083"/><circle cx="1263.5" cy="525.5" r="2.083"/><circle cx="1263.5" cy="532.5" r="2.083"/><circle cx="1264.5" cy="539.5" r="2.083"/><circle cx="1265.5" cy="546.5" r="2.083"/><circle cx="1265.5" cy="553.5" r="2.083"/><circle cx="1266.5" cy="561.5" r="2.083"/><circle cx="1267.5" cy="569.5" r="2.083"/></g>
<g class="o"><circle cx="1272.5" cy="530.5" r="2.083"/><circle cx="1273.5" cy="531.5" r="2.083"/><circle cx="1273.5" cy="533.5" r="2.083"/><circle cx="1274.5" cy="534.5" r="2.083"/><circle cx="1274.5" cy="535.5" r="2.083"/><circle cx="1275.5" cy="536.5" r="2.083"/><circle cx="1276.5" cy="537.5" r="2.083"/><circle cx="1276.5" cy="538.5" r="2.083"/><circle cx="1277.5" cy="539.5" r="2.083"/><circle cx="1277.5" cy="540.5" r="2.083"/><circle cx="1278.5" cy="541.5" r="2.083"/><circle cx="1279.5" cy="542.5" r="2.083"/><circle cx="1279.5" cy="543.5" r="2.083"/><circle cx="1280.5" cy="543.5" r="2.083"/><circle cx="1280.5" cy="544.5" r="2.083"/><circle cx="1281.5" cy="544.5" r="2.083"/><circle cx="1282.5" cy="545.5" r="2.083"/><circle cx="1282.5" cy="545.5" r="2.083"/><circle cx="1283.5" cy="546.5" r="2.083"/><circle cx="1283.5" cy="546.5" r="2.083"/><circle cx="1284.5" cy="546.5" r="2.083"/><circle cx="1285.5" cy="546.5" r="2.083"/><circle cx="1285.5" cy="546.5" r="2.083"/><circle cx="1286.5" cy="547.5" r="2.083"/><circle cx="1286.5" cy="547.5" r="2.083"/><circle cx="1287.5" cy="547.5" r="2.083"/><circle cx="1288.5" cy="547.5" r="2.083"/><circle cx="1288.5" cy="546.5" r="2.083"/><circle cx="1289.5" cy="546.5" r="2.083"/><circle cx="1289.5" cy="546.5" r="2.083"/><circle cx="1290.5" cy="546.5" r="2.083"/><circle cx="1291.5" cy="546.5" r="2.083"/><circle cx="1291.5" cy="545.5" r="2.083"/><circle cx="1292.5" cy="545.5" r="2.083"/><circle cx="1292.5" cy="544.5" r="2.083"/><circle cx="1293.5" cy="544.5" r="2.083"/><circle cx="1294.5" cy="543.5" r="2.083"/><circle cx="1294.5" cy="543.5" r="2.083"/><circle cx="1295.5" cy="542.5" r="2.083"/><circle cx="1295.5" cy="542.5" r="2.083"/><circle cx="1296.5" cy="541.5" r="2.083"/><circle cx="1297.5" cy="540.5" r="2.083"/><circle cx="1297.5" cy="539.5" r="2.083"/><circle cx="1298.5" cy="539.5" r="2.083"/><circle cx="1298.5" cy="538.5" r="2.083"/><circle cx="1299.5" cy="537.5" r="2.083"/><circle cx="1300.5" cy="536.5" r="2.083"/><circle cx="1300.5" cy="535.5" r="2.083"/><circle cx="1301.5" cy="534.5" r="2.083"/><circle cx="1302.5" cy="533.5" r="2.083"/></g>
<g class="g"><circle cx="1307.5" cy="560.5" r="2.083"/><circle cx="1308.5" cy="553.5" r="2.083"/><circle cx="1308.5" cy="547.5" r="2.083"/><circle cx="1309.5" cy="541.5" r="2.083"/><circle cx="1309.5" cy="536.5" r="2.083"/><circle cx="1310.5" cy="530.5" r="2.083"/><circle cx="1310.5" cy="524.5" r="2.083"/><circle cx="1311.5" cy="519.5" r="2.083"/><circle cx="1312.5" cy="514.5" r="2.083"/><circle cx="1312.5" cy="509.5" r="2.083"/><circle cx="1313.5" cy="504.5" r="2.083"/><circle cx="1313.5" cy="500.5" r="2.083"/><circle cx="1314.5" cy="495.5" r="2.083"/><circle cx="1314.5" cy="491.5" r="2.083"/><circle cx="1315.5" cy="487.5" r="2.083"/><circle cx="1315.5" cy="483.5" r="2.083"/><circle cx="1316.5" cy="480.5" r="2.083"/><circle cx="1317.5" cy="476.5" r="2.083"/><circle cx="1317.5" cy="473.5" r="2.083"/><circle cx="1318.5" cy="470.5" r="2.083"/><circle cx="1318.5" cy="468.5" r="2.083"/><circle cx="1319.5" cy="465.5" r="2.083"/><circle cx="1319.5" cy="463.5" r="2.083"/><circle cx="1320.5" cy="461.5" r="2.083"/><circle cx="1321.5" cy="459.5" r="2.083"/><circle cx="1321.5" cy="457.5" r="2.083"/><circle cx="1322.5" cy="456.5" r="2.083"/><circle cx="1322.5" cy="454.5" r="2.083"/><circle cx="1323.5" cy="453.5" r="2.083"/><circle cx="1323.5" cy="452.5" r="2.083"/><circle cx="1324.5" cy="452.5" r="2.083"/><circle cx="1325.5" cy="451.5" r="2.083"/><circle cx="1325.5" cy="451.5" r="2.083"/><circle cx="1326.5" cy="450.5" r="2.083"/><circle cx="1326.5" cy="450.5" r="2.083"/><circle cx="1327.5" cy="451.5" r="2.083"/><circle cx="1327.5" cy="451.5" r="2.083"/><circle cx="1328.5" cy="451.5" r="2.083"/><circle cx="1328.5" cy="452.5" r="2.083"/><circle cx="1329.5" cy="452.5" r="2.083"/><circle cx="1330.5" cy="453.5" r="2.083"/><circle cx="1330.5" cy="454.5" r="2.083"/><circle cx="1331.5" cy="455.5" r="2.083"/><circle cx="1331.5" cy="456.5" r="2.083"/><circle cx="1332.5" cy="457.5" r="2.083"/><circle cx="1332.5" cy="459.5" r="2.083"/><circle cx="1333.5" cy="460.5" r="2.083"/><circle cx="1334.5" cy="461.5" r="2.083"/><circle cx="1334.5" cy="462.5" r="2.083"/><circle cx="1335.5" cy="464.5" r="2.083"/></g>
<g class="b"><circle cx="1597.5" cy="635.5" r="2.083"/><circle cx="1598.5" cy="630.5" r="2.083"/><circle cx="1598.5" cy="624.5" r="2.083"/><circle cx="1599.5" cy="619.5" r="2.083"/><circle cx="1600.5" cy="614.5" r="2.083"/><circle cx="1600.5" cy="609.5" r="2.083"/><circle cx="1601.5" cy="604.5" r="2.083"/><circle cx="1602.5" cy="599.5" r="2.083"/><circle cx="1602.5" cy="594.5" r="2.083"/><circle cx="1603.5" cy="590.5" r="2.083"/><circle cx="1604.5" cy="585.5" r="2.083"/><circle cx="1605.5" cy="581.5" r="2.083"/><circle cx="1605.5" cy="577.5" r="2.083"/><circle cx="1606.5" cy="573.5" r="2.083"/><circle cx="1607.5" cy="569.5" r="2.083"/><circle cx="1607.5" cy="565.5" r="2.083"/><circle cx="1608.5" cy="562.5" r="2.083"/><circle cx="1609.5" cy="559.5" r="2.083"/><circle cx="1609.5" cy="555.5" r="2.083"/><circle cx="1610.5" cy="552.5" r="2.083"/><circle cx="1611.5" cy="549.5" r="2.083"/><circle cx="1611.5" cy="546.5" r="2.083"/><circle cx="1612.5" cy="544.5" r="2.083"/><circle cx="1613.5" cy="541.5" r="2.083"/><circle cx="1613.5" cy="539.5" r="2.083"/><circle cx="1614.5" cy="537.5" r="2.083"/><circle cx="1615.5" cy="534.5" r="2.083"/><circle cx="1615.5" cy="532.5" r="2.083"/><circle cx="1616.5" cy="531.5" r="2.083"/><circle cx="1617.5" cy="529.5" r="2.083"/><circle cx="1618.5" cy="527.5" r="2.083"/><circle cx="1618.5" cy="526.5" r="2.083"/><circle cx="1619.5" cy="525.5" r="2.083"/><circle cx="1620.5" cy="523.5" r="2.083"/><circle cx="1620.5" cy="522.5" r="2.083"/><circle cx="1621.5" cy="522.5" r="2.083"/><circle cx="1622.5" cy="521.5" r="2.083"/><circle cx="1622.5" cy="520.5" r="2.083"/><circle cx="1623.5" cy="520.5" r="2.083"/><circle cx="1624.5" cy="519.5" r="2.083"/><circle cx="1624.5" cy="519.5" r="2.083"/><circle cx="1625.5" cy="519.5" r="2.083"/><circle cx="1626.5" cy="519.5" r="2.083"/><circle cx="1626.5" cy="519.5" r="2.083"/><circle cx="1627.5" cy="520.5" r="2.083"/><circle cx="1628.5" cy="520.5" r="2.083"/><circle cx="1628.5" cy="521.5" r="2.083"/><circle cx="1629.5" cy="521.5" r="2.083"/><circle cx="1630.5" cy="522.5" r="2.083"/><circle cx="1631.5" cy="523.5" r="2.083"/></g>
<g class="o"><circle cx="1635.5" cy="472.5" r="2.083"/><circle cx="1636.5" cy="441.5" r="2.083"/><circle cx="1637.5" cy="410.5" r="2.083"/><circle cx="1637.5" cy="381.5" r="2.083"/><circle cx="1638.5" cy="353.5" r="2.083"/><circle cx="1639.5" cy="327.5" r="2.083"/><circle cx="1639.5" cy="301.5" r="2.083"/><circle cx="1640.5" cy="278.5" r="2.083"/><circle cx="1641.5" cy="256.5" r="2.083"/><circle cx="1641.5" cy="235.5" r="2.083"/><circle cx="1642.5" cy="215.5" r="2.083"/><circle cx="1642.5" cy="197.5" r="2.083"/><circle cx="1643.5" cy="180.5" r="2.083"/><circle cx="1644.5" cy="164.5" r="2.083"/><circle cx="1644.5" cy="150.5" r="2.083"/><circle cx="1645.5" cy="138.5" r="2.083"/><circle cx="1646.5" cy="126.5" r="2.083"/><circle cx="1646.5" cy="116.5" r="2.083"/><circle cx="1647.5" cy="107.5" r="2.083"/><circle cx="1648.5" cy="100.5" r="2.083"/><circle cx="1648.5" cy="94.5" r="2.083"/><circle cx="1649.5" cy="90.5" r="2.083"/><circle cx="1649.5" cy="86.5" r="2.083"/><circle cx="1650.5" cy="84.5" r="2.083"/><circle cx="1651.5" cy="83.5" r="2.083"/><circle cx="1651.5" cy="84.5" r="2.083"/><circle cx="1652.5" cy="86.5" r="2.083"/><circle cx="1653.5" cy="90.5" r="2.083"/><circle cx="1653.5" cy="95.5" r="2.083"/><circle cx="1654.5" cy="101.5" r="2.083"/><circle cx="1654.5" cy="108.5" r="2.083"/><circle cx="1655.5" cy="117.5" r="2.083"/><circle cx="1656.5" cy="128.5" r="2.083"/><circle cx="1656.5" cy="139.5" r="2.083"/><circle cx="1657.5" cy="152.5" r="2.083"/><circle cx="1658.5" cy="167.5" r="2.083"/><circle cx="1658.5" cy="182.5" r="2.083"/><circle cx="1659.5" cy="199.5" r="2.083"/><circle cx="1659.5" cy="217.5" r="2.083"/><circle cx="1660.5" cy="237.5" r="2.083"/><circle cx="1661.5" cy="258.5" r="2.083"/><circle cx="1661.5" cy="280.5" r="2.083"/><circle cx="1662.5" cy="304.5" r="2.083"/><circle cx="1663.5" cy="329.5" r="2.083"/><circle cx="1663.5" cy="356.5" r="2.083"/><circle cx="1664.5" cy="384.5" r="2.083"/><circle cx="1664.5" cy="412.5" r="2.083"/><circle cx="1665.5" cy="443.5" r="2.083"/><circle cx="1666.5" cy="475.5" r="2.083"/><circle cx="1666.5" cy="508.5" r="2.083"/></g>
<g class="g"><circle cx="1672.5" cy="332.5" r="2.083"/><circle cx="1672.5" cy="330.5" r="2.083"/><circle cx="1673.5" cy="329.5" r="2.083"/><circle cx="1674.5" cy="327.5" r="2.083"/><circle cx="1674.5" cy="326.5" r="2.083"/><circle cx="1675.5" cy="324.5" r="2.083"/><circle cx="1675.5" cy="323.5" r="2.083"/><circle cx="1676.5" cy="322.5" r="2.083"/><circle cx="1677.5" cy="320.5" r="2.083"/><circle cx="1677.5" cy="319.5" r="2.083"/><circle cx="1678.5" cy="318.5" r="2.083"/><circle cx="1678.5" cy="317.5" r="2.083"/><circle cx="1679.5" cy="316.5" r="2.083"/><circle cx="1680.5" cy="316.5" r="2.083"/><circle cx="1680.5" cy="315.5" r="2.083"/><circle cx="1681.5" cy="314.5" r="2.083"/><circle cx="1681.5" cy="314.5" r="2.083"/><circle cx="1682.5" cy="313.5" r="2.083"/><circle cx="1683.5" cy="313.5" r="2.083"/><circle cx="1683.5" cy="313.5" r="2.083"/><circle cx="1684.5" cy="312.5" r="2.083"/><circle cx="1684.5" cy="312.5" r="2.083"/><circle cx="1685.5" cy="312.5" r="2.083"/><circle cx="1686.5" cy="312.5" r="2.083"/><circle cx="1686.5" cy="312.5" r="2.083"/><circle cx="1687.5" cy="312.5" r="2.083"/><circle cx="1687.5" cy="313.5" r="2.083"/><circle cx="1688.5" cy="313.5" r="2.083"/><circle cx="1689.5" cy="313.5" r="2.083"/><circle cx="1689.5" cy="314.5" r="2.083"/><circle cx="1690.5" cy="314.5" r="2.083"/><circle cx="1690.5" cy="315.5" r="2.083"/><circle cx="1691.5" cy="316.5" r="2.083"/><circle cx="1691.5" cy="316.5" r="2.083"/><circle cx="1692.5" cy="317.5" r="2.083"/><circle cx="1693.5" cy="318.5" r="2.083"/><circle cx="1693.5" cy="319.5" r="2.083"/><circle cx="1694.5" cy="320.5" r="2.083"/><circle cx="1694.5" cy="321.5" r="2.083"/><circle cx="1695.5" cy="323.5" r="2.083"/><circle cx="1696.5" cy="324.5" r="2.083"/><circle cx="1696.5" cy="325.5" r="2.083"/><circle cx="1697.5" cy="327.5" r="2.083"/><circle cx="1697.5" cy="328.5" r="2.083"/><circle cx="1698.5" cy="330.5" r="2.083"/><circle cx="1699.5" cy="331.5" r="2.083"/><circle cx="1699.5" cy="333.5" r="2.083"/><circle cx="1700.5" cy="335.5" r="2.083"/><circle cx="1700.5" cy="336.5" r="2.083"/><circle cx="1701.5" cy="338.5" r="2.083"/></g>
</g>
<line x1="97" y1="326.5" x2="1778" y2="326.5" stroke="#808080" stroke-width="1.0417"/>
<g stroke="#000" stroke-width="1.6667">
<line x1="228" y1="663" x2="228" y2="670"/>
<line x1="498" y1="663" x2="498" y2="670"/>
<line x1="767" y1="663" x2="767" y2="670"/>
<line x1="1037" y1="663" x2="1037" y2="670"/>
<line x1="1306" y1="663" x2="1306" y2="670"/>
<line x1="1576" y1="663" x2="1576" y2="670"/>
<line x1="90" y1="103" x2="97" y2="103"/>
<line x1="90" y1="177" x2="97" y2="177"/>
<line x1="90" y1="252" x2="97" y2="252"/>
<line x1="90" y1="326" x2="97" y2="326"/>
<line x1="90" y1="401" x2="97" y2="401"/>
<line x1="90" y1="475" x2="97" y2="475"/>
<line x1="90" y1="550" x2="97" y2="550"/>
<line x1="90" y1="624" x2="97" y2="624"/>
</g>
<rect x="97" y="56" width="1681" height="607" fill="none" stroke="#000" stroke-width="1.6667"/>
<g font-size="20.833" text-anchor="middle">
<text x="227.9" y="692.5">3000</text>
<text x="497.7" y="692.5">3200</text>
<text x="766.8" y="692.5">3400</text>
<text x="1036.8" y="692.5">3600</text>
<text x="1306.8" y="692.5">3800</text>
<text x="1575.5" y="692.5">4000</text>
</g>
<g font-size="20.833">
<text x="69.95" y="110.6">3</text>
<text x="69.95" y="184.6">2</text>
<text x="69.95" y="259.6">1</text>
<text x="69.95" y="333.6">0</text>
<text x="51.94 68.60" y="408.6">−1</text>
<text x="51.94 68.60" y="482.6">−2</text>
<text x="51.94 68.60" y="557.6">−3</text>
<text x="51.94 68.60" y="631.6">−4</text>
</g>
<text x="937.0" y="42.5" font-size="25" text-anchor="middle">Velocity correction (A)</text>
<text x="937.1" y="722.0" font-size="20.833" text-anchor="middle">Wavelength [nm]</text>
<text transform="translate(39.0 360.4) rotate(-90)" font-size="20.833" text-anchor="middle">dv (vipere - pipeline) [km/s]</text>
<rect x="107" y="65" width="123" height="91" rx="3.75" ry="3.75" fill="#fff" fill-opacity="0.8" stroke="#ccc" stroke-opacity="0.8" stroke-width="2.0833"/>
<circle cx="133.5" cy="81.5" r="5.21" fill="#1f77b4"/>
<text x="167.0" y="88.0" font-size="18.75">CHIP1</text>
<circle cx="133.5" cy="110.5" r="5.21" fill="#ff7f0e"/>
<text x="167.0" y="116.4" font-size="18.75">CHIP2</text>
<circle cx="133.5" cy="138.5" r="5.21" fill="#2ca02c"/>
<text x="167.0" y="144.8" font-size="18.75">CHIP3</text>
</svg></body></html>
